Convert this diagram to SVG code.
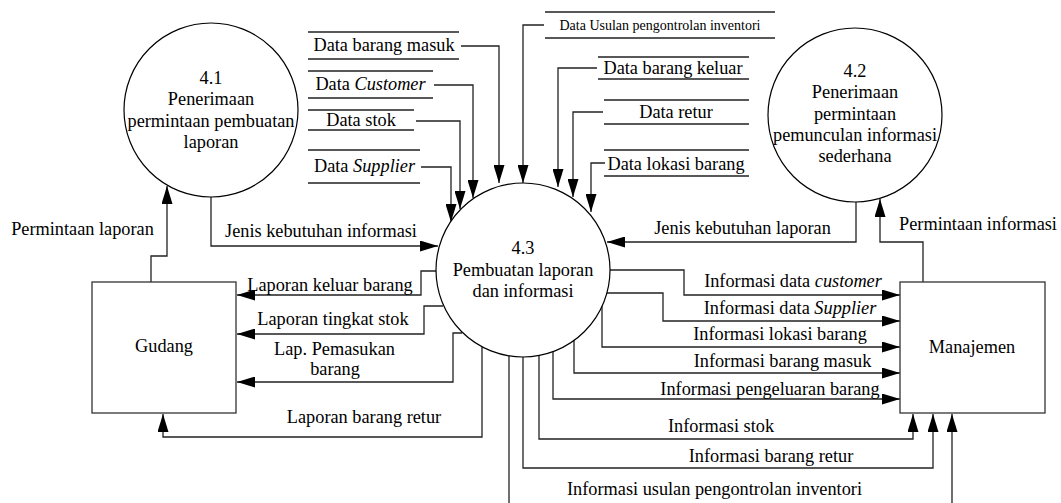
<svg xmlns="http://www.w3.org/2000/svg" width="1061" height="503" viewBox="0 0 1061 503" font-family="Liberation Serif, serif" font-size="18.3">
  <style>
    text { fill: #000; }
    .mid { text-anchor: middle; }
    .small { font-size: 14px; }
    .proc { fill: #fff; stroke: #000; stroke-width: 1.2; }
    .ent { fill: #fff; stroke: #333; stroke-width: 1.3; }
    .store { stroke: #222; stroke-width: 1.3; fill: none; }
    .flow { fill: none; stroke: #222; stroke-width: 1.3; }
    .arr { marker-end: url(#head); }
  </style>
  <defs>
    <marker id="head" markerWidth="18" markerHeight="11" refX="18" refY="5.5" orient="auto" markerUnits="userSpaceOnUse">
      <path d="M0,0 L18,5.5 L0,11 Z" fill="#000"/>
    </marker>
  </defs>

  <rect width="1061" height="503" fill="#fff"/>

  <!-- data flows -->
  <g id="connectors">
    <!-- stores into 4.3 -->
    <polyline class="flow arr" points="461,46 499,46 499,183"/>
    <polyline class="flow arr" points="434,85 473,85 473,198"/>
    <polyline class="flow arr" points="416,121 460,121 460,209"/>
    <polyline class="flow arr" points="421,167 451,167 451,222"/>
    <polyline class="flow arr" points="544,25 523,25 523,183"/>
    <polyline class="flow arr" points="597,68 558,68 558,187"/>
    <polyline class="flow arr" points="603,112 573,112 573,197"/>
    <polyline class="flow arr" points="605,163 591,163 591,212"/>

    <!-- requests -->
    <polyline class="flow arr" points="151,282 151,256 167,256 167,186"/>
    <polyline class="flow arr" points="211,197 211,246 438,246"/>
    <polyline class="flow arr" points="923,282 923,242 880,242 880,199"/>
    <polyline class="flow arr" points="856,202 856,242 607,242"/>

    <!-- reports to Gudang -->
    <polyline class="flow arr" points="437,271 421,271 421,295 237,295"/>
    <polyline class="flow arr" points="443,306 424,306 424,334 237,334"/>
    <polyline class="flow arr" points="462,333 453,333 453,382 237,382"/>
    <polyline class="flow arr" points="482,347 482,437 163,437 163,414"/>

    <!-- information to Manajemen -->
    <polyline class="flow arr" points="610,270 684,270 684,295 900,295"/>
    <polyline class="flow arr" points="607,293 663,293 663,321 900,321"/>
    <polyline class="flow arr" points="602,306 602,347 900,347"/>
    <polyline class="flow arr" points="574,340 574,373 900,373"/>
    <polyline class="flow arr" points="553,352 553,399 900,399"/>
    <polyline class="flow arr" points="539,355 539,439 913,439 913,414"/>
    <polyline class="flow arr" points="523,357 523,468 933,468 933,414"/>
    <polyline class="flow" points="509,356 509,503"/>
    <polyline class="flow arr" points="952,503 952,414"/>

    <!-- flow labels -->
    <text class="mid" x="82.5" y="235">Permintaan laporan</text>
    <text class="mid" x="321" y="237">Jenis kebutuhan informasi</text>
    <text class="mid" x="742.5" y="234">Jenis kebutuhan laporan</text>
    <text class="mid" x="978" y="230">Permintaan informasi</text>
    <text class="mid" x="330" y="291">Laporan keluar barang</text>
    <text class="mid" x="333" y="325">Laporan tingkat stok</text>
    <text class="mid" x="334.5" y="355">Lap. Pemasukan</text>
    <text class="mid" x="335" y="375">barang</text>
    <text class="mid" x="364" y="423">Laporan barang retur</text>
    <text class="mid" x="793" y="287">Informasi data <tspan font-style="italic">customer</tspan></text>
    <text class="mid" x="790" y="314">Informasi data <tspan font-style="italic">Supplier</tspan></text>
    <text class="mid" x="780" y="340">Informasi lokasi barang</text>
    <text class="mid" x="782.5" y="367">Informasi barang masuk</text>
    <text class="mid" x="770" y="395">Informasi pengeluaran barang</text>
    <text class="mid" x="721" y="432">Informasi stok</text>
    <text class="mid" x="771" y="462">Informasi barang retur</text>
    <text class="mid" x="714.5" y="495">Informasi usulan pengontrolan inventori</text>
  </g>

  <!-- data stores -->
  <g id="ds-barang-masuk">
    <path class="store" d="M308,32 H459 M308,59 H459"/>
    <text class="mid" x="384" y="51">Data barang masuk</text>
  </g>
  <g id="ds-customer">
    <path class="store" d="M308,71 H433 M308,98 H433"/>
    <text class="mid" x="370.5" y="90">Data <tspan font-style="italic">Customer</tspan></text>
  </g>
  <g id="ds-stok">
    <path class="store" d="M308,110 H414 M308,130 H414"/>
    <text class="mid" x="361" y="126">Data stok</text>
  </g>
  <g id="ds-supplier">
    <path class="store" d="M308,150 H420 M308,183 H420"/>
    <text class="mid" x="364.5" y="172">Data <tspan font-style="italic">Supplier</tspan></text>
  </g>
  <g id="ds-usulan">
    <path class="store" d="M545,12 H775 M545,38 H775"/>
    <text class="mid small" x="660" y="30">Data Usulan pengontrolan inventori</text>
  </g>
  <g id="ds-barang-keluar">
    <path class="store" d="M598,57 H749 M598,79 H749"/>
    <text class="mid" x="673" y="74">Data barang keluar</text>
  </g>
  <g id="ds-retur">
    <path class="store" d="M604,100 H749 M604,124 H749"/>
    <text class="mid" x="676" y="118">Data retur</text>
  </g>
  <g id="ds-lokasi">
    <path class="store" d="M604,150 H749 M604,176 H749"/>
    <text class="mid" x="676" y="170">Data lokasi barang</text>
  </g>

  <!-- processes -->
  <g id="p41">
    <circle class="proc" cx="211" cy="110" r="87"/>
    <text class="mid" x="211" y="84">4.1</text>
    <text class="mid" x="211" y="105">Penerimaan</text>
    <text class="mid" x="211" y="127">permintaan pembuatan</text>
    <text class="mid" x="211" y="148">laporan</text>
  </g>
  <g id="p42">
    <circle class="proc" cx="855" cy="115" r="87"/>
    <text class="mid" x="855" y="77">4.2</text>
    <text class="mid" x="855" y="98">Penerimaan</text>
    <text class="mid" x="855" y="120">permintaan</text>
    <text class="mid" x="855" y="141">pemunculan informasi</text>
    <text class="mid" x="855" y="162">sederhana</text>
  </g>
  <g id="p43">
    <circle class="proc" cx="523" cy="270" r="87"/>
    <text class="mid" x="523" y="254">4.3</text>
    <text class="mid" x="523" y="276">Pembuatan laporan</text>
    <text class="mid" x="523" y="297">dan informasi</text>
  </g>

  <!-- external entities -->
  <g id="gudang">
    <rect class="ent" x="92" y="282" width="144" height="131"/>
    <text class="mid" x="164" y="352">Gudang</text>
  </g>
  <g id="manajemen">
    <rect class="ent" x="900" y="282" width="145" height="131"/>
    <text class="mid" x="972" y="353">Manajemen</text>
  </g>
</svg>
